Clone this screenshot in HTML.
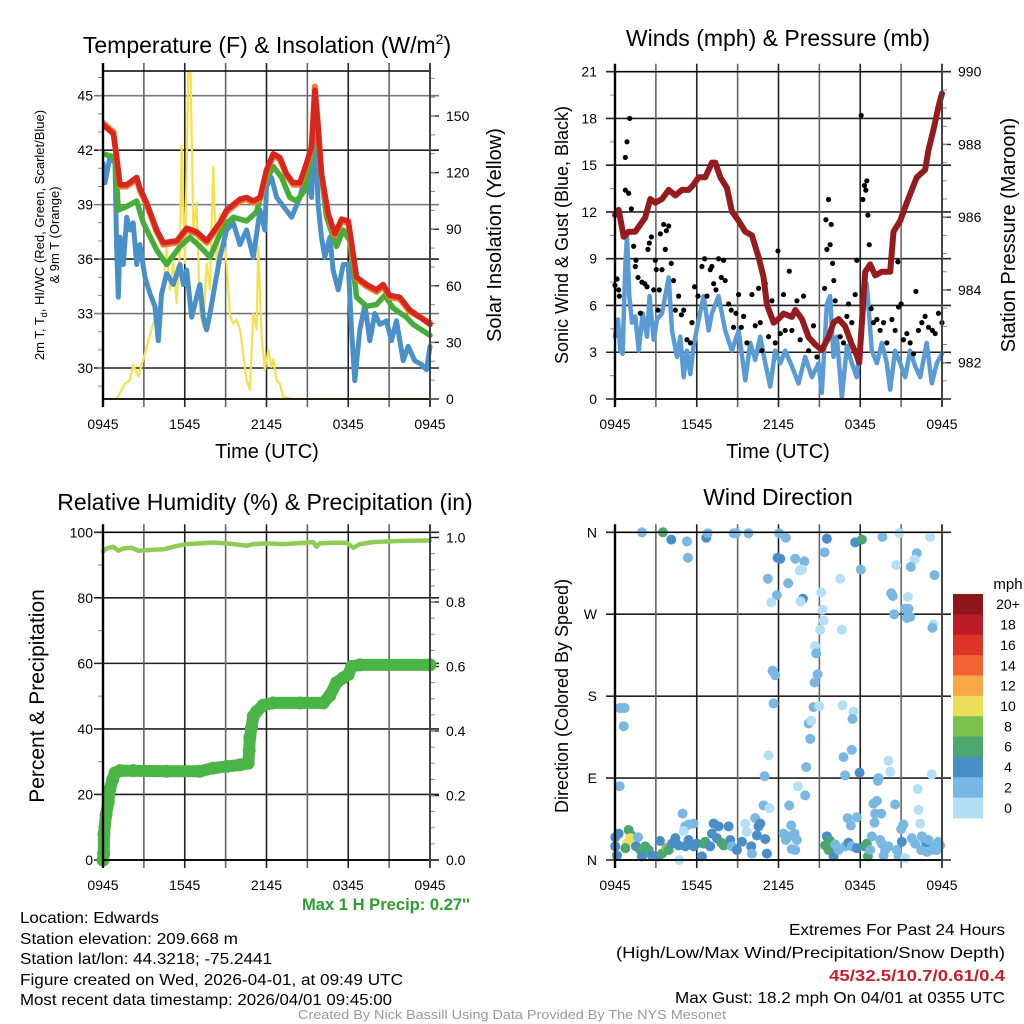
<!DOCTYPE html>
<html><head><meta charset="utf-8">
<style>
html,body{margin:0;padding:0;background:#fff;}
svg{display:block;font-family:"Liberation Sans",sans-serif;}
.tk{font-size:14px;fill:#000;}
.nar{font-family:"Liberation Sans Narrow","Liberation Sans",sans-serif;}
</style></head>
<body>
<svg id="fig" width="1024" height="1024" viewBox="0 0 1024 1024" xmlns="http://www.w3.org/2000/svg">
<rect width="1024" height="1024" fill="#fff"/>
<g id="p1"></g>
<g id="p2"></g>
<g id="p3"></g>
<g id="p4"></g>

<text x="267" y="53" text-anchor="middle" font-size="23">Temperature (F) &amp; Insolation (W/m<tspan dy="-9" font-size="14">2</tspan><tspan dy="9">)</tspan></text>
<text transform="translate(44,235) rotate(-90)" text-anchor="middle" font-size="13">2m T, T<tspan font-size="9" dy="3">d</tspan><tspan dy="-3">, HI/WC (Red, Green, Scarlet/Blue)</tspan></text>
<text transform="translate(59,235) rotate(-90)" text-anchor="middle" font-size="13">&amp; 9m T (Orange)</text>
<text transform="translate(501,235) rotate(-90)" text-anchor="middle" font-size="20">Solar Insolation (Yellow)</text>
<text x="267" y="458" text-anchor="middle" font-size="20">Time (UTC)</text>

<text x="778" y="46" text-anchor="middle" font-size="23">Winds (mph) &amp; Pressure (mb)</text>
<text transform="translate(568,235) rotate(-90)" text-anchor="middle" font-size="18">Sonic Wind &amp; Gust (Blue, Black)</text>
<text transform="translate(1015,235) rotate(-90)" text-anchor="middle" font-size="20">Station Pressure (Maroon)</text>
<text x="778" y="458" text-anchor="middle" font-size="20">Time (UTC)</text>

<text x="265" y="510" text-anchor="middle" font-size="23">Relative Humidity (%) &amp; Precipitation (in)</text>
<text transform="translate(44,696) rotate(-90)" text-anchor="middle" font-size="21">Percent &amp; Precipitation</text>
<text x="470" y="910" text-anchor="end" font-size="17" font-weight="bold" fill="#2e9e2e" textLength="168" lengthAdjust="spacingAndGlyphs">Max 1 H Precip: 0.27''</text>

<text x="778" y="505" text-anchor="middle" font-size="23">Wind Direction</text>
<text transform="translate(568,696) rotate(-90)" text-anchor="middle" font-size="18">Direction (Colored By Speed)</text>
<text x="1008" y="589" text-anchor="middle" font-size="15">mph</text>

<g class="nar" font-size="16">
<text x="20" y="923" textLength="139" lengthAdjust="spacingAndGlyphs">Location: Edwards</text>
<text x="20" y="944" textLength="218" lengthAdjust="spacingAndGlyphs">Station elevation: 209.668 m</text>
<text x="20" y="964" textLength="252" lengthAdjust="spacingAndGlyphs">Station lat/lon: 44.3218; -75.2441</text>
<text x="20" y="985" textLength="383" lengthAdjust="spacingAndGlyphs">Figure created on Wed, 2026-04-01, at 09:49 UTC</text>
<text x="20" y="1005" textLength="372" lengthAdjust="spacingAndGlyphs">Most recent data timestamp: 2026/04/01 09:45:00</text>
</g>
<g class="nar" font-size="16" text-anchor="end">
<text x="1005" y="935" textLength="216" lengthAdjust="spacingAndGlyphs">Extremes For Past 24 Hours</text>
<text x="1005" y="958" textLength="389" lengthAdjust="spacingAndGlyphs">(High/Low/Max Wind/Precipitation/Snow Depth)</text>
<text x="1005" y="981" font-weight="bold" fill="#c8202a" textLength="176" lengthAdjust="spacingAndGlyphs">45/32.5/10.7/0.61/0.4</text>
<text x="1005" y="1003" textLength="330" lengthAdjust="spacingAndGlyphs">Max Gust: 18.2 mph On 04/01 at 0355 UTC</text>
</g>
<text class="nar" x="512" y="1019" text-anchor="middle" font-size="13" fill="#999" textLength="428" lengthAdjust="spacingAndGlyphs">Created By Nick Bassill Using Data Provided By The NYS Mesonet</text>
</svg>
<script>
// ---------- data ----------
const xTickLabels = ["0945","1545","2145","0345","0945"];
const tempTicks = [30,33,36,39,42,45];
const solarTicks = [0,30,60,90,120,150];
const windTicks = [0,3,6,9,12,15,18,21];
const pressTicks = [982,984,986,988,990];
const rhTicks = [0,20,40,60,80,100];
const precipTicks = ["0.0","0.2","0.4","0.6","0.8","1.0"];
const dirTicks = ["N","E","S","W","N"];
const cbarLabels = ["20+","18","16","14","12","10","8","6","4","2","0"];
const cbarColors = ["#8e1519","#bd1c26","#dc3428","#f06232","#f7a848","#e8e05a","#7cc24d","#4ba670","#4a8ec8","#7ab8e4","#b3e0f7"];

const tempRed = [[0,43.4],[0.76,42.9],[1.0,41.6],[1.25,40.1],[1.74,40.1],[2.47,40.5],[2.71,39.9],[3.2,39.1],[3.94,37.6],[4.43,36.9],[5.4,37.0],[6.14,37.7],[6.87,37.5],[7.6,37.0],[8.58,38.0],[9.07,38.7],[10.05,39.3],[10.54,39.4],[11.03,39.2],[11.52,39.4],[12.0,40.9],[12.49,41.8],[12.98,41.6],[13.47,40.7],[13.96,40.2],[14.45,40.2],[14.94,41.3],[15.31,42.2],[15.55,45.3],[15.79,43.3],[16.04,40.7],[16.53,38.5],[17.02,37.4],[17.51,38.2],[18.0,38.1],[18.61,35.0],[19.34,34.6],[20.07,34.3],[20.56,34.6],[21.05,34.0],[21.78,33.9],[22.52,33.2],[24,32.4]];
const tempOrange = [[0,43.5],[0.76,43.0],[1.0,41.6],[1.25,40.0],[1.74,40.0],[2.47,40.4],[2.71,39.8],[3.2,39.0],[3.94,37.5],[4.43,36.8],[5.4,36.9],[6.14,37.6],[6.87,37.4],[7.6,36.9],[8.58,37.9],[9.07,38.6],[10.05,39.2],[10.54,39.3],[11.03,39.1],[11.52,39.3],[12.0,40.8],[12.49,41.7],[12.98,41.5],[13.47,40.6],[13.96,40.1],[14.45,40.1],[14.94,41.2],[15.31,42.1],[15.55,45.5],[15.79,43.3],[16.04,40.6],[16.53,38.4],[17.02,37.3],[17.51,38.1],[18.0,38.0],[18.61,34.9],[19.34,34.5],[20.07,34.2],[20.56,34.5],[21.05,33.9],[21.78,33.8],[22.52,33.1],[24,32.5]];
const tempGreen = [[0,41.8],[0.88,41.6],[1.12,38.7],[1.74,38.9],[2.47,39.2],[2.96,38.0],[3.94,36.5],[4.67,35.7],[5.65,36.7],[6.38,37.2],[7.11,36.7],[7.85,36.1],[8.83,37.8],[9.56,38.3],[10.54,38.1],[11.27,38.6],[11.76,40.0],[12.49,41.1],[13.11,40.5],[13.72,39.4],[14.21,39.2],[14.82,39.8],[15.18,41.3],[15.55,44.2],[15.92,41.3],[16.41,38.3],[17.14,36.7],[17.63,37.6],[18.12,37.0],[18.61,33.9],[19.34,33.4],[20.07,33.5],[20.68,34.0],[21.3,33.3],[22.27,32.8],[22.76,32.4],[24,31.8]];
const dewBlue = [[0,41.3],[0.15,40.2],[0.51,41.6],[0.88,41.3],[1.0,36.7],[1.12,33.9],[1.25,37.2],[1.49,35.7],[1.74,38.3],[1.98,37.6],[2.22,38.0],[2.47,35.7],[2.71,36.8],[3.08,35.0],[3.45,34.1],[3.81,33.4],[4.06,31.5],[4.3,34.1],[4.67,35.2],[5.16,34.6],[5.65,35.7],[5.89,34.6],[6.14,35.4],[6.5,32.8],[6.87,33.9],[7.11,34.6],[7.36,32.8],[7.6,32.1],[7.85,33.0],[8.22,34.6],[8.58,36.1],[9.07,37.6],[9.56,38.0],[10.05,36.8],[10.54,37.6],[11.03,36.1],[11.52,38.7],[11.88,37.6],[12.0,40.0],[12.37,40.5],[12.74,39.4],[13.84,38.3],[14.45,39.4],[14.94,40.9],[15.31,39.4],[15.55,43.8],[15.79,39.0],[16.04,37.2],[16.28,36.1],[16.65,37.2],[16.89,35.4],[17.26,34.3],[17.63,35.7],[18.0,35.7],[18.24,32.1],[18.48,29.3],[18.85,32.1],[19.22,33.5],[19.58,31.5],[19.95,33.0],[20.32,32.4],[20.81,32.6],[21.17,31.5],[21.54,32.6],[22.03,30.4],[22.4,31.2],[22.88,30.4],[23.37,30.2],[23.74,29.9],[24,31.2]];
const solar = [[0,0],[1.0,0],[1.61,8],[1.98,10],[2.22,18],[2.59,12],[2.96,21],[3.33,31],[3.69,40],[4.06,47],[4.43,58],[4.67,81],[4.91,58],[5.16,72],[5.4,51],[5.65,81],[5.77,134],[6.01,72],[6.14,125],[6.26,173],[6.43,173],[6.63,90],[6.87,104],[7.11,47],[7.36,38],[7.6,72],[7.85,58],[8.09,123],[8.34,72],[8.58,98],[8.83,86],[9.07,72],[9.32,44],[9.56,40],[9.8,42],[10.05,37],[10.54,10],[10.78,5],[11.03,45],[11.27,37],[11.39,81],[11.64,33],[11.88,15],[12.13,26],[12.37,17],[12.49,21],[12.74,10],[12.98,8],[13.23,1],[13.96,0],[24,0]];

const pressure = [[0,986.06],[0.27,986.2],[0.64,985.46],[1.0,985.6],[1.49,985.6],[1.86,985.8],[2.22,985.99],[2.59,986.5],[2.96,986.4],[3.45,986.5],[3.94,986.75],[4.43,986.6],[4.91,986.75],[5.4,986.75],[5.77,986.9],[6.14,987.1],[6.63,987.1],[7.11,987.5],[7.36,987.5],[7.73,987.1],[8.22,986.8],[8.58,986.16],[9.07,985.9],[9.56,985.6],[10.05,985.5],[10.54,984.9],[10.9,984.36],[11.15,983.6],[11.64,983.1],[12.0,983.2],[12.37,983.35],[12.98,983.26],[13.23,983.45],[13.72,983.2],[14.21,982.7],[14.69,982.5],[15.18,982.35],[15.67,982.7],[16.04,983.1],[16.41,983.2],[16.89,983.0],[17.38,982.5],[17.75,982.2],[17.92,982.0],[18.12,983.1],[18.36,984.5],[18.73,984.7],[19.1,984.4],[19.58,984.5],[20.2,984.5],[20.44,985.6],[20.93,985.9],[21.42,986.4],[21.78,986.75],[22.15,987.1],[22.76,987.3],[23.01,987.85],[23.37,988.4],[23.74,989.04],[24,989.4]];
const windSpeed = [[0,4.0],[0.22,5.1],[0.39,3.1],[0.56,2.9],[0.76,8.7],[0.88,10.4],[1.05,6.6],[1.25,4.9],[1.49,5.3],[1.74,3.1],[2.03,5.5],[2.35,4.0],[2.54,6.6],[2.84,3.8],[3.08,5.1],[3.45,5.5],[3.94,7.8],[4.18,4.4],[4.55,2.7],[4.79,4.0],[5.04,1.4],[5.28,3.1],[5.53,1.6],[5.77,3.4],[6.14,5.1],[6.5,6.6],[6.87,4.4],[7.11,5.5],[7.6,6.6],[8.09,4.4],[8.58,3.1],[9.07,4.4],[9.56,1.2],[9.93,3.6],[10.29,2.5],[10.66,4.0],[11.03,2.3],[11.39,0.8],[11.76,3.1],[12.13,2.3],[12.49,3.1],[12.98,2.1],[13.47,1.0],[13.96,2.7],[14.45,1.4],[14.94,2.3],[15.18,0.4],[15.55,6.1],[15.79,6.6],[16.04,2.7],[16.28,4.0],[16.65,0.1],[17.02,3.4],[17.38,2.3],[17.75,1.4],[18.12,4.9],[18.48,7.4],[18.85,3.1],[19.22,2.3],[19.58,3.6],[19.95,2.3],[20.2,0.6],[20.56,3.1],[20.93,2.3],[21.3,1.4],[21.66,3.1],[22.03,2.1],[22.4,1.4],[22.88,3.6],[23.25,1.0],[23.62,2.3],[24,2.9]];
const gusts = [[0,7.3],[0.15,7.7],[0.27,7.0],[0.32,6.6],[0.76,15.5],[0.88,16.5],[1.08,18.0],[0.76,13.4],[1.0,13.2],[1.2,12.2],[1.37,9.8],[1.49,8.5],[1.54,8.9],[1.69,7.8],[1.86,5.5],[1.98,7.5],[2.18,7.4],[2.35,7.2],[2.42,9.6],[2.52,10.0],[2.67,10.4],[2.84,7.0],[2.96,8.9],[3.03,8.3],[3.15,5.7],[3.25,7.0],[3.33,10.6],[3.45,8.3],[3.57,11.2],[3.69,9.6],[3.77,10.8],[3.94,11.1],[4.13,8.7],[4.3,7.6],[4.43,5.7],[4.67,6.6],[4.87,5.4],[5.04,5.7],[5.28,3.8],[5.53,3.6],[5.65,4.9],[5.84,7.2],[6.09,6.6],[6.38,8.5],[6.58,9.0],[6.75,6.6],[6.99,8.3],[7.11,8.5],[7.24,7.4],[7.41,7.0],[7.6,9.0],[7.8,7.8],[7.97,8.9],[8.09,7.6],[8.34,6.1],[8.53,5.7],[8.7,4.6],[8.88,5.5],[9.07,6.7],[9.27,4.6],[9.44,5.3],[9.68,3.6],[10.05,6.7],[10.29,4.7],[10.54,7.1],[10.66,4.9],[10.78,3.1],[11.03,7.4],[11.27,4.0],[11.52,6.3],[11.76,3.6],[11.96,9.5],[12.13,4.2],[12.37,6.7],[12.49,4.4],[12.79,8.2],[12.98,4.4],[13.35,6.3],[13.59,3.8],[13.84,6.6],[14.21,3.1],[14.57,4.7],[14.82,2.7],[15.38,7.1],[15.48,11.5],[15.55,9.6],[15.67,12.8],[15.79,9.9],[15.87,11.2],[15.97,8.7],[16.06,7.6],[16.16,6.3],[16.53,4.0],[16.77,3.6],[17.02,5.3],[17.14,6.1],[17.38,4.9],[17.63,6.7],[17.75,8.9],[18.07,18.2],[18.19,12.8],[18.31,13.7],[18.41,13.4],[18.48,14.0],[18.56,11.8],[18.66,9.9],[18.8,5.8],[18.97,4.9],[19.22,5.1],[19.46,4.4],[19.71,4.9],[19.95,3.6],[20.32,5.1],[20.56,4.4],[20.76,8.8],[20.81,5.9],[21.0,6.1],[21.17,3.8],[21.42,4.2],[21.66,3.6],[21.91,2.9],[22.08,6.9],[22.27,4.4],[22.52,4.9],[22.76,5.3],[23.01,4.6],[23.3,4.4],[23.5,4.2],[23.74,5.5],[24,4.9]];

const rh = [[0,94.1],[0.27,95.1],[0.76,95.6],[1.12,94.4],[1.49,95.1],[2.1,95.3],[2.59,94.4],[3.45,94.6],[4.43,94.8],[5.4,95.8],[6.14,96.4],[7.11,96.6],[8.09,96.9],[9.07,96.6],[10.54,95.9],[11.03,96.4],[12.0,96.6],[13.23,96.4],[14.45,96.7],[15.43,97.0],[15.67,95.6],[15.92,96.6],[16.89,96.8],[17.87,96.8],[18.36,95.3],[18.85,96.4],[19.83,97.0],[21.3,97.3],[24,97.5]];
const precip = [[0,0.0],[0.05,0.02],[0.07,0.08],[0.22,0.14],[0.39,0.18],[0.51,0.22],[0.71,0.25],[0.88,0.27],[1.25,0.277],[2.22,0.277],[4.67,0.275],[7.11,0.275],[8.09,0.285],[9.07,0.29],[10.05,0.295],[10.66,0.30],[10.73,0.34],[10.78,0.38],[10.9,0.41],[11.03,0.446],[11.27,0.46],[11.76,0.48],[12.49,0.487],[14.45,0.487],[16.16,0.487],[16.65,0.51],[17.14,0.55],[17.63,0.565],[18.0,0.575],[18.24,0.60],[18.85,0.605],[24,0.605]];

// [hours since 0945, direction deg, speed mph]
const windDir = [[1.98,360,3],[3.52,360,7],[4.13,352,5],[5.28,350,3],[5.35,332,3],[6.70,354,5],[6.80,359,3],[8.70,359,3],[8.88,359,3],[9.80,359,3],[12.05,359,3],[12.54,354,3],[11.93,332,5],[12.13,331,5],[13.23,331,3],[13.89,328,3],[13.55,318,1],[13.72,319,1],[11.22,309,3],[12.71,304,3],[11.88,291,3],[11.47,283,1],[13.79,287,5],[13.62,284,1],[15.55,353,5],[15.38,338,3],[17.63,349,5],[18.12,352,7],[18.04,319,3],[19.63,355,3],[20.86,359,1],[23.13,355,1],[22.15,337,3],[21.98,330,1],[21.71,322,3],[20.64,324,1],[23.45,313,3],[16.53,309,1],[15.13,294,1],[15.23,275,1],[15.31,263,1],[15.06,253,1],[16.65,253,1],[20.27,293,3],[20.39,290,3],[21.49,289,1],[21.30,276,3],[21.54,276,3],[21.42,266,3],[21.66,267,3],[20.49,270,3],[23.37,259,1],[23.30,255,3],[14.69,235,1],[14.77,227,3],[11.56,208,3],[11.76,203,3],[14.87,204,3],[14.65,195,3],[11.64,172,3],[14.57,168,3],[14.99,169,1],[16.70,170,1],[17.51,163,1],[17.43,155,3],[14.21,150,3],[14.40,153,1],[14.33,133,3],[17.38,121,3],[16.77,113,3],[11.27,115,1],[14.03,102,3],[17.95,96,5],[16.89,93,3],[20.07,109,1],[20.20,97,1],[19.34,90,3],[19.29,87,3],[23.25,94,1],[10.98,92,3],[13.42,81,1],[13.96,71,3],[22.22,78,1],[22.27,55,1],[12.79,60,3],[10.90,60,3],[11.34,57,1],[18.97,62,3],[19.22,65,3],[20.56,61,3],[19.10,51,3],[19.54,51,3],[19.05,41,3],[17.07,46,3],[17.75,47,3],[17.31,38,3],[22.40,40,1],[21.17,39,3],[21.00,34,3],[0.34,167,3],[0.51,167,3],[0.71,167,3],[0.64,147,3],[0.34,81,3],[4.96,51,3],
[0.02,25,5],[0.27,29,5],[0.02,15,5],[0.15,5,5],[1.00,33,7],[1.20,27,7],[0.88,18,11],[1.12,24,11],[0.76,13,7],[1.69,25,3],[1.54,15,5],[1.86,11,7],[2.22,15,7],[2.47,11,7],[1.98,4,5],[2.71,5,5],[3.20,4,5],[3.45,7,7],[3.77,13,9],[3.94,11,7],[3.30,21,5],[4.43,24,5],[4.67,16,5],[5.16,15,5],[4.18,18,5],[4.72,0,1],[5.16,37,3],[5.40,39,3],[5.77,40,3],[5.04,32,1],[5.40,22,5],[5.77,15,5],[6.01,18,5],[6.38,4,5],[6.50,18,7],[6.63,20,7],[6.99,15,5],[7.24,40,5],[7.60,37,5],[7.11,29,5],[7.48,24,5],[7.80,19,7],[7.97,16,7],[8.34,37,5],[8.46,22,5],[8.58,15,3],[8.95,11,5],[9.32,20,5],[9.56,40,1],[9.68,31,1],[10.00,15,5],[10.05,7,3],[10.29,46,3],[10.54,37,5],[10.66,40,5],[10.42,27,5],[11.03,23,5],[11.15,7,5],[12.37,29,3],[12.54,22,3],[12.74,26,3],[12.93,38,3],[13.18,29,3],[13.35,22,3],[12.98,12,3],[13.23,11,3],[15.55,26,5],[15.79,21,7],[15.43,16,7],[15.67,11,7],[15.92,13,7],[16.16,17,3],[16.04,4,5],[16.41,11,3],[16.89,15,3],[17.14,19,5],[17.38,15,3],[17.75,13,5],[18.31,15,7],[18.48,18,7],[18.56,4,7],[18.73,11,3],[18.85,26,3],[19.46,22,3],[19.58,18,3],[19.83,11,3],[19.71,5,3],[20.07,15,3],[20.68,11,3],[21.05,20,5],[20.81,4,3],[21.30,2,1],[21.78,24,3],[22.03,18,3],[22.52,26,3],[22.76,20,3],[22.84,15,5],[23.01,22,3],[22.47,11,3],[22.89,9,3],[23.25,11,3],[23.50,15,3],[23.74,20,3],[23.86,16,3],[23.62,11,3]];

// ---------- helpers ----------
const NS="http://www.w3.org/2000/svg";
function mk(parent,tag,attrs){const e=document.createElementNS(NS,tag);for(const k in attrs)e.setAttribute(k,attrs[k]);parent.appendChild(e);return e;}
function lin(d0,d1,r0,r1){return v=>r0+(v-d0)*(r1-r0)/(d1-d0);}

function frame(g,X0,X1,Y0,Y1,labelY){
  const xs=lin(0,24,X0,X1);
  for(let h=3;h<24;h+=3){
    const l=mk(g,'line',{x1:xs(h),x2:xs(h),y1:Y0-8,y2:Y1+8,stroke:(h%6===0)?'#222':'#666','stroke-width':1.6});
    
    
  }
  xTickLabels.forEach((s,i)=>{
    const t=mk(g,'text',{x:xs(i*6),y:labelY,'text-anchor':'middle',class:'tk'});t.textContent=s;
    
    
  });
  return xs;
}
function hgrid(g,X0,X1,y,color){
  const l=mk(g,'line',{x1:X0-9,x2:X1+9,y1:y,y2:y,stroke:color,'stroke-width':1.6});
  
  
}
function border(g,X0,X1,Y0,Y1){
  mk(g,'line',{x1:X0,x2:X1,y1:Y0,y2:Y0,stroke:'#000','stroke-width':1.4});
  mk(g,'line',{x1:X0,x2:X1,y1:Y1,y2:Y1,stroke:'#000','stroke-width':1.8});
  mk(g,'line',{x1:X0,x2:X0,y1:Y0-8,y2:Y1+8,stroke:'#000','stroke-width':2.4});
  mk(g,'line',{x1:X1,x2:X1,y1:Y0-8,y2:Y1+8,stroke:'#444','stroke-width':2});
}
function ylab(g,x,y,s,anchor){
  const t=mk(g,'text',{x:x,y:y+5,'text-anchor':anchor,class:'tk'});t.textContent=s;
  
  
}
function poly(g,data,xs,ys,color,w,name){
  const p=mk(g,'polyline',{points:data.map(d=>xs(d[0]).toFixed(1)+','+ys(d[1]).toFixed(1)).join(' '),fill:'none',stroke:color,'stroke-width':w,'stroke-linejoin':'round','stroke-linecap':'round'});
  
  
  return p;
}

// ---------- panel 1 ----------
(function(){
  const g=document.getElementById('p1');const X0=103,X1=430,Y0=71,Y1=399;
  const ys=lin(30,45,368,95.7), ysS=lin(0,150,399,116);
  tempTicks.forEach(v=>{hgrid(g,X0,X1,ys(v),(v%2===0)?'#222':'#777');ylab(g,93,ys(v),String(v),'end');});
  for(let v=29;v<=46;v++){mk(g,'line',{x1:X0-5,x2:X0,y1:ys(v),y2:ys(v),stroke:'#888'});}
  solarTicks.forEach(v=>{mk(g,'line',{x1:X1,x2:X1+9,y1:ysS(v),y2:ysS(v),stroke:'#222','stroke-width':1.4});ylab(g,X1+16,ysS(v),String(v),'start');});
  for(let v=10;v<175;v+=10){mk(g,'line',{x1:X1,x2:X1+5,y1:ysS(v),y2:ysS(v),stroke:'#888'});}
  const xs=frame(g,X0,X1,Y0,Y1,429);
  const c=mk(g,'g',{'clip-path':'url(#c1)'});
  const cp=mk(document.getElementById('fig'),'clipPath',{id:'c1'});mk(cp,'rect',{x:X0,y:Y0-3,width:X1-X0+3,height:Y1-Y0+3});
  poly(c,solar,xs,ysS,'#f8df4c',2.2,'solar-line');
  poly(c,dewBlue,xs,ys,'#4a90c8',5,'dewpoint-line');
  poly(c,tempGreen,xs,ys,'#47ad3a',5.5,'heat-index-line');
  poly(c,tempOrange,xs,ys,'#f47a2a',6,'temp-9m-line');
  poly(c,tempRed,xs,ys,'#d7261e',5.5,'temp-2m-line');
  border(g,X0,X1,Y0,Y1);
})();

// ---------- panel 2 ----------
(function(){
  const g=document.getElementById('p2');const X0=615,X1=942,Y0=71.7,Y1=399;
  const ys=lin(0,21,399,71.7), ysP=lin(982,990,362.7,71.7);
  windTicks.forEach(v=>{hgrid(g,X0,X1,ys(v),'#222');ylab(g,597,ys(v),String(v),'end');});
  for(let v=1.5;v<21;v+=3){mk(g,'line',{x1:X0-5,x2:X0,y1:ys(v),y2:ys(v),stroke:'#888'});}
  pressTicks.forEach(v=>{mk(g,'line',{x1:X1,x2:X1+9,y1:ysP(v),y2:ysP(v),stroke:'#222','stroke-width':1.4});ylab(g,X1+16,ysP(v),String(v),'start');});
  for(let v=981.5;v<990;v+=0.5){mk(g,'line',{x1:X1,x2:X1+5,y1:ysP(v),y2:ysP(v),stroke:'#888'});}
  const xs=frame(g,X0,X1,Y0,Y1,429);
  poly(g,windSpeed,xs,ys,'#5b9bd5',4.5,'sonic-wind-line');
  gusts.forEach(d=>{const c=mk(g,'circle',{cx:xs(d[0]),cy:ys(d[1]),r:2.6,fill:'#000'});
    
    });
  poly(g,pressure,xs,ysP,'#961b1e',6,'pressure-line');
  border(g,X0,X1,Y0,Y1);
})();

// ---------- panel 3 ----------
(function(){
  const g=document.getElementById('p3');const X0=103,X1=430,Y0=532.3,Y1=860;
  const ys=lin(0,100,860,532.3), ysP=lin(0,1,860,537.5);
  rhTicks.forEach(v=>{hgrid(g,X0,X1,ys(v),'#222');ylab(g,93,ys(v),String(v),'end');});
  for(let v=10;v<100;v+=20){mk(g,'line',{x1:X0-5,x2:X0,y1:ys(v),y2:ys(v),stroke:'#888'});}
  precipTicks.forEach((s,i)=>{const v=i*0.2;mk(g,'line',{x1:X1,x2:X1+9,y1:ysP(v),y2:ysP(v),stroke:'#222','stroke-width':1.4});ylab(g,X1+16,ysP(v),s,'start');});
  for(let v=0.05;v<1.0;v+=0.05){mk(g,'line',{x1:X1,x2:X1+5,y1:ysP(v),y2:ysP(v),stroke:'#888'});}
  const xs=frame(g,X0,X1,Y0,Y1,890);
  poly(g,rh,xs,ys,'#8fcc55',4.5,'humidity-line');
  poly(g,precip,xs,ysP,'#4bb446',12,'precip-line');
  precip.forEach(d=>{const c=mk(g,'circle',{cx:xs(d[0]),cy:ysP(d[1]),r:6.5,fill:'#4bb446'});
    
    });
  border(g,X0,X1,Y0,Y1);
})();

// ---------- panel 4 ----------
(function(){
  const g=document.getElementById('p4');const X0=615,X1=942,Y0=532.3,Y1=860;
  const ys=lin(0,360,860,532.3);
  dirTicks.forEach((s,i)=>{hgrid(g,X0,X1,ys(i*90),'#222');ylab(g,597,ys(i*90),s,'end');});
  const xs=frame(g,X0,X1,Y0,Y1,890);
  function col(s){const idx=Math.min(10,Math.floor(s/2));return cbarColors[10-idx];}
  windDir.forEach(d=>{const c=mk(g,'circle',{cx:xs(d[0]),cy:ys(d[1]),r:5,fill:col(d[2])});
    
    });
  border(g,X0,X1,Y0,Y1);
  const cb=mk(g,'g',{});
  const h=(818-594)/11;
  cbarColors.forEach((c,i)=>{const r=mk(cb,'rect',{x:953,y:594+i*h,width:30,height:h+0.5,fill:c});
    
    
    const t=mk(cb,'text',{x:1008,y:594+i*h+h/2+5,'text-anchor':'middle',class:'tk'});t.textContent=cbarLabels[i];
    
    });
})();
</script>
</body></html>
